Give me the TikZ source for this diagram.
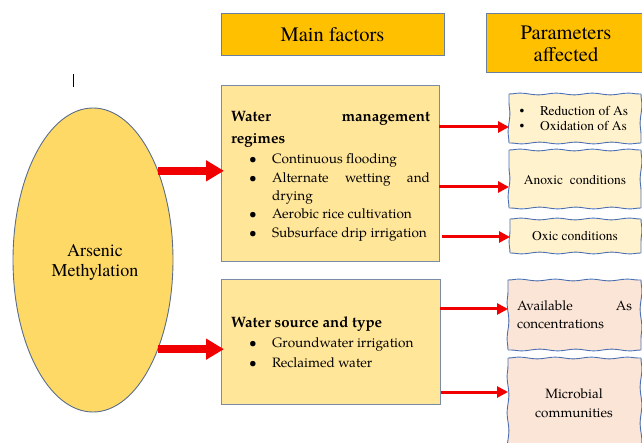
\documentclass[tikz,border=0pt]{standalone}
\usepackage{fontspec}
\setmainfont{texgyretermes}[Extension=.otf,UprightFont=*-regular,BoldFont=*-bold]
\newfontfamily\pal{texgyrepagella}[Extension=.otf,UprightFont=*-regular,BoldFont=*-bold]
\usetikzlibrary{shapes.geometric,arrows.meta,decorations.pathmorphing}
\definecolor{hdrfill}{HTML}{FFC000}
\definecolor{hdrline}{HTML}{6A7FA0}
\definecolor{mainfill}{HTML}{FFE699}
\definecolor{mainline}{HTML}{7A8BA8}
\definecolor{ellfill}{HTML}{FFD966}
\definecolor{ellline}{HTML}{5A6E8C}
\definecolor{pafill}{HTML}{FFF2CC}
\definecolor{pbfill}{HTML}{FBE5D6}
\definecolor{waveline}{HTML}{4A6FB5}
\definecolor{arrred}{HTML}{F00000}
\newcommand\bitem[1]{\hbox to\hsize{\hspace*{22pt}\makebox[0pt]{\textbullet}\hspace*{19pt}#1}}
\newcommand\bcont[1]{\hbox to\hsize{\hspace*{41pt}#1}}
\newcommand\sitem[1]{\hbox{\makebox[0pt]{\textbullet}\hspace*{18pt}#1}}
\newcommand\wavyedges[1]{%
  \draw[waveedge] (#1.north west) -- (#1.north east);
  \draw[waveedge] (#1.north east) -- (#1.south east);
  \draw[waveedge] (#1.south east) -- (#1.south west);
  \draw[waveedge] (#1.south west) -- (#1.north west);}
\begin{document}
\begin{tikzpicture}[x=1pt,y=-1pt,
  hdrbox/.style={draw=hdrline,line width=1pt,fill=hdrfill,inner sep=0pt,outer sep=0pt,
    font=\fontsize{20.5}{22}\selectfont,align=center},
  mainbox/.style={draw=mainline,line width=1pt,fill=mainfill,inner sep=0pt,outer sep=0pt},
  wavebox/.style={inner sep=0pt,outer sep=0pt},
  waveedge/.style={draw=waveline,line width=0.9pt,line join=round,
    decorate,decoration={snake,amplitude=0.9pt,segment length=36pt}},
  txt/.style={inner sep=0pt,outer sep=0pt},
  blockarr/.style={draw=arrred,line width=8.4pt,-{Triangle[length=18pt,width=20pt]},shorten >=-3pt},
  thinarr/.style={draw=arrred,line width=3pt,-{Triangle[length=11pt,width=11pt]}}
]
\useasboundingbox (0,0) rectangle (642,443);
\clip (0,0) rectangle (642,443);

% headers
\node[hdrbox,minimum width=223,minimum height=42] (mf) at (332.5,35) {Main factors};
\node[hdrbox,minimum width=160,minimum height=59] (pa) at (566,43.5) {Parameters\\affected};

% stray mark
\draw[line width=0.8pt] (73,74) -- (73,87);

% ellipse
\node[ellipse,draw=ellline,line width=0.9pt,fill=ellfill,minimum width=160,minimum height=304,
  inner sep=0pt,outer sep=0pt] (am) at (93,260) {};
\node[txt,align=center,font=\fontsize{18}{20}\selectfont] (amt) at (95,262) {Arsenic\\Methylation};

% main factor boxes
\node[mainbox,minimum width=218,minimum height=176] (b1) at (330,174) {};
\node[txt,anchor=base west] (b1t) at (231,122) {\pal\vtop{\hsize=199pt
  {\bfseries\fontsize{15}{22}\selectfont
  \hbox to\hsize{Water\hfill management}
  \hbox to\hsize{regimes\hfil}}
  \fontsize{13.6}{18.3}\selectfont
  \vskip1.7pt
  \bitem{Continuous flooding\hfil}
  \bitem{Alternate\hfill wetting\hfill and}
  \bcont{drying\hfil}
  \bitem{Aerobic rice cultivation\hfil}
  \bitem{Subsurface drip irrigation\hfil}}};

\node[mainbox,minimum width=219,minimum height=124] (b2) at (330.5,342) {};
\node[txt,anchor=base west] (b2t) at (231,327) {\pal\vtop{\hsize=199pt
  {\bfseries\fontsize{15}{22}\selectfont
  \hbox to\hsize{Water source and type\hfil}}
  \fontsize{13.6}{20}\selectfont
  \bitem{Groundwater irrigation\hfil}
  \bitem{Reclaimed water\hfil}}};

% parameter boxes
\node[wavebox,fill=pafill,minimum width=132,minimum height=49] (r1) at (575,118.5) {};
\wavyedges{r1}
\node[txt,anchor=base west] (r1t) at (522,116) {\vtop{\fontsize{13.5}{15}\selectfont
  \sitem{Reduction of As}
  \sitem{Oxidation of As}}};

\node[wavebox,fill=pafill,minimum width=132,minimum height=58] (r2) at (575,179) {};
\wavyedges{r2}
\node[txt,anchor=base,font=\fontsize{13.5}{15}\selectfont] (r2t) at (575,185) {Anoxic\ \ conditions};

\node[wavebox,fill=pafill,minimum width=131,minimum height=34] (r3) at (575.5,236) {};
\wavyedges{r3}
\node[txt,anchor=base,font=\fontsize{13.5}{15}\selectfont] (r3t) at (575,241) {Oxic conditions};

\node[wavebox,fill=pbfill,minimum width=133,minimum height=70] (r4) at (574.5,315) {};
\wavyedges{r4}
\node[txt,anchor=base west] (r4t) at (517,311) {\pal\vtop{\hsize=115pt\fontsize{13.5}{18}\selectfont
  \hbox to\hsize{Available\hfill As}
  \hbox to\hsize{concentrations\hfil}}};

\node[wavebox,fill=pbfill,minimum width=133,minimum height=102] (r5) at (574.5,409) {};
\wavyedges{r5}
\node[txt,anchor=base] (r5t) at (574,398) {\pal\vtop{\hsize=110pt\fontsize{13.5}{19}\selectfont
  \hbox to\hsize{\hfil Microbial\hfil}
  \hbox to\hsize{\hfil communities\hfil}}};

% block arrows
\draw[blockarr] (am.54.6) -- (b1.west |- am.54.6);
\draw[blockarr] (am.-54.6) -- (b2.west |- am.-54.6);

% thin arrows
\draw[thinarr] (b1.east |- 0,127) -- (r1.west |- 0,127);
\draw[thinarr] (b1.east |- 0,187) -- (r2.west |- 0,187);
\draw[thinarr] ([xshift=3pt]b1.east |- 0,237) -- (r3.west |- 0,237);
\draw[thinarr] (b2.east |- 0,309) -- (r4.west |- 0,309);
\draw[thinarr] ([xshift=1pt]b2.east |- 0,392) -- (r5.west |- 0,392);
\end{tikzpicture}
\end{document}
